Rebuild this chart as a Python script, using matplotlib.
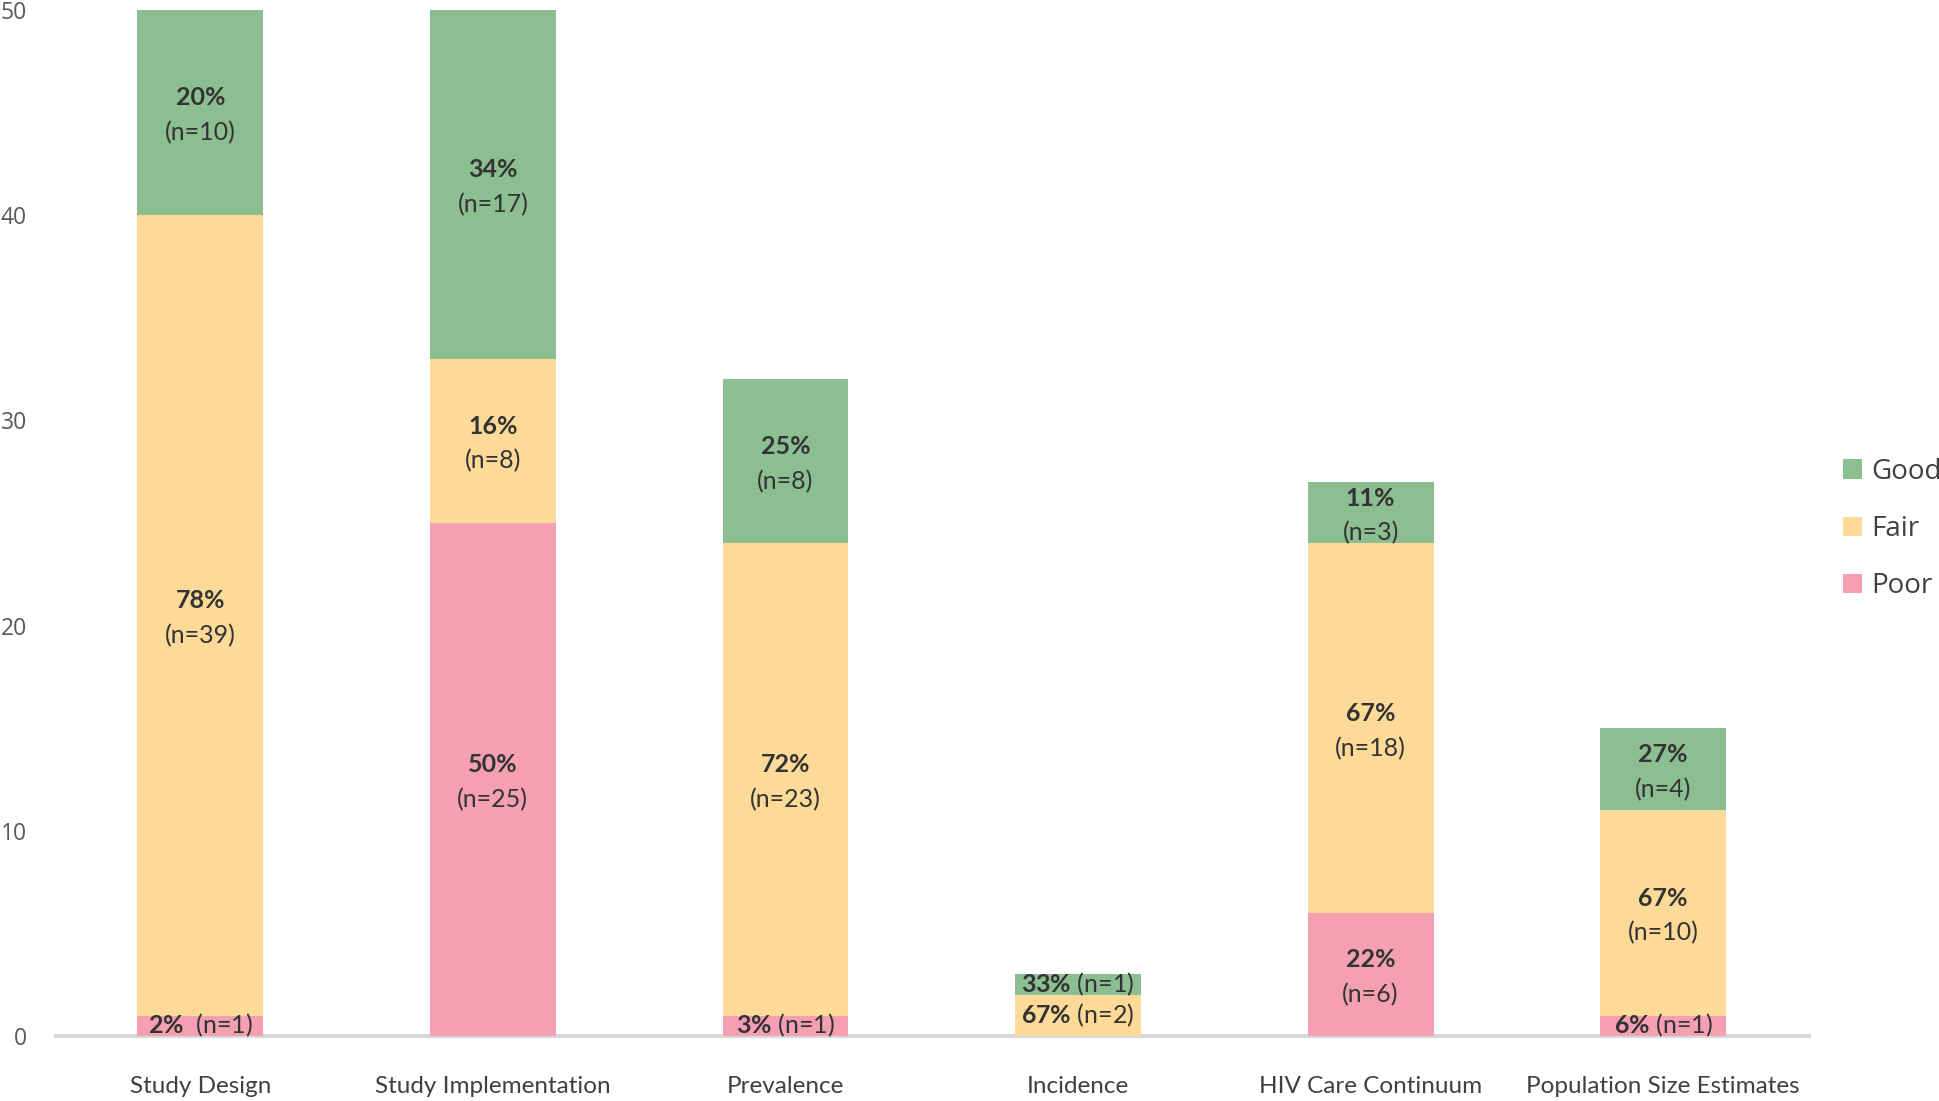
import matplotlib
matplotlib.use("Agg")
import matplotlib.pyplot as plt
from matplotlib.patches import Patch
import numpy as np

plt.rcParams["font.family"] = "Lato"
plt.rcParams["mathtext.fontset"] = "custom"
plt.rcParams["mathtext.rm"] = "Lato"
plt.rcParams["mathtext.bf"] = "Lato:bold"

categories = ["Study Design", "Study Implementation", "Prevalence", "Incidence",
              "HIV Care Continuum", "Population Size Estimates"]
poor = [1, 25, 1, 0, 6, 1]
fair = [39, 8, 23, 2, 18, 10]
good = [10, 17, 8, 1, 3, 4]
poor_pct = ["2%", "50%", "3%", "", "22%", "6%"]
fair_pct = ["78%", "16%", "72%", "67%", "67%", "67%"]
good_pct = ["20%", "34%", "25%", "33%", "11%", "27%"]
yticks = [0, 10, 20, 30, 40, 50]

C_GOOD = "#8bbe90"
C_FAIR = "#fdda97"
C_POOR = "#f49fb2"
TXT = "#333333"

fig = plt.figure(figsize=(19.39, 11.01), dpi=100)
ax = fig.add_axes([0.0289, 0.059, 0.904, 0.932])

x = np.arange(len(categories))
w = 0.43
poor_a = np.array(poor)
fair_a = np.array(fair)
good_a = np.array(good)
ax.bar(x, poor_a, w, color=C_POOR, edgecolor="none")
ax.bar(x, fair_a, w, bottom=poor_a, color=C_FAIR, edgecolor="none")
ax.bar(x, good_a, w, bottom=poor_a + fair_a, color=C_GOOD, edgecolor="none")


def seg_label(xi, bottom, val, pct):
    if val <= 0:
        return
    yc = bottom + val / 2
    if val <= 2:
        sep = "  " if xi == 0 else " "
        pct_m = pct.replace("%", r"\%")
        ax.text(xi, yc, rf"$\mathbf{{{pct_m}}}${sep}(n={val})", ha="center",
                va="center", fontsize=18, color=TXT)
    else:
        # two lines, sitting a bit below the segment centre like the original
        ax.annotate(pct, (xi, yc), xytext=(0, 10.5), textcoords="offset points",
                    ha="center", va="center", fontsize=18, fontweight="bold",
                    color=TXT)
        ax.annotate(f"(n={val})", (xi, yc), xytext=(0, -14.5),
                    textcoords="offset points", ha="center", va="center",
                    fontsize=18, color=TXT)


for i in range(len(categories)):
    seg_label(i, 0, poor[i], poor_pct[i])
    seg_label(i, poor[i], fair[i], fair_pct[i])
    seg_label(i, poor[i] + fair[i], good[i], good_pct[i])

ax.set_xlim(-0.493, 5.498)
ax.set_ylim(0, 50)
ax.set_yticks(yticks)
ax.set_xticks(x)
ax.set_xticklabels(categories, fontsize=17.5, color="#404040")
for lbl in ax.get_yticklabels():
    lbl.set_fontfamily("Open Sans")
    lbl.set_fontsize(16.5)
    lbl.set_color("#595959")
ax.tick_params(axis="both", length=0)
ax.tick_params(axis="x", pad=29)
ax.tick_params(axis="y", pad=21)
for s in ["top", "right", "left"]:
    ax.spines[s].set_visible(False)
ax.spines["bottom"].set_color("#d9d9d9")
ax.spines["bottom"].set_linewidth(3)
ax.spines["bottom"].set_zorder(0.5)

handles = [Patch(facecolor=C_GOOD, label="Good"),
           Patch(facecolor=C_FAIR, label="Fair"),
           Patch(facecolor=C_POOR, label="Poor")]
fig.legend(handles=handles, loc="center left", bbox_to_anchor=(0.9505, 0.5195),
           frameon=False, prop={"family": "Open Sans", "size": 20},
           labelcolor="#404040", handlelength=0.7, handleheight=0.7,
           handletextpad=0.3, labelspacing=1.05, borderpad=0, borderaxespad=0)

fig.savefig("out.png", dpi=100)
